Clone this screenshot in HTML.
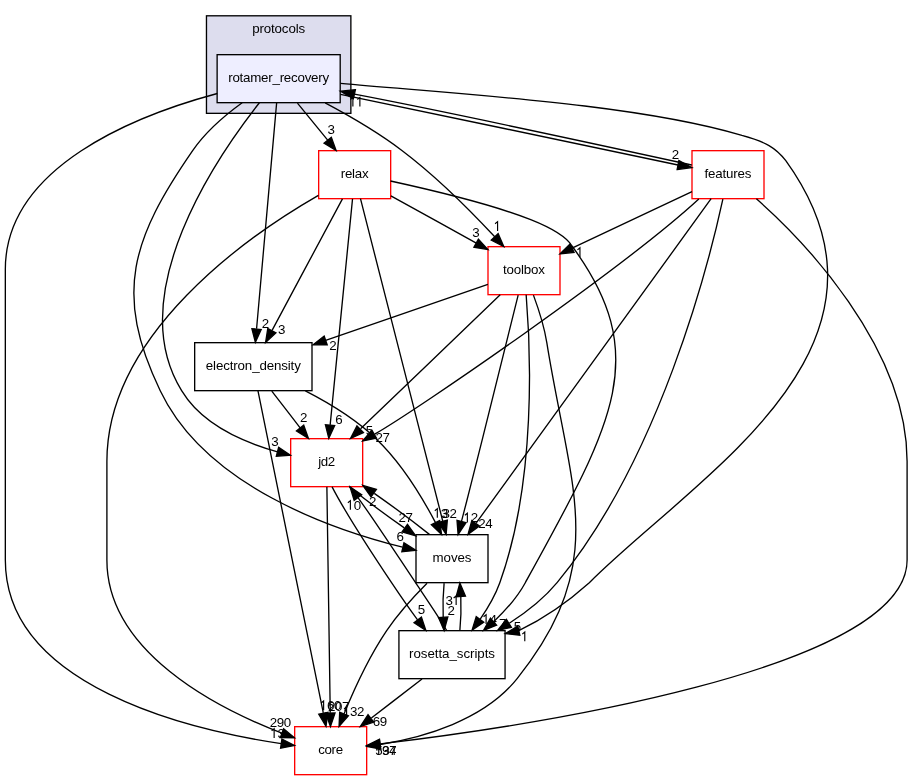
<!DOCTYPE html>
<html><head><meta charset="utf-8"><title>rotamer_recovery</title>
<style>html,body{margin:0;padding:0;background:#fff;}svg{display:block;}svg text{font-family:"Liberation Sans",sans-serif;}text{-webkit-font-smoothing:antialiased;}svg{will-change:transform;}</style></head>
<body>
<svg width="912" height="780" viewBox="0 0 912 780">
<rect x="0" y="0" width="912" height="780" fill="#ffffff"/>
<g font-size="13.33px" fill="#000" text-anchor="middle">
<rect x="206.47" y="15.80" width="144.40" height="97.53" fill="#ddddee" stroke="#000" stroke-width="1.333"/>
<text x="278.67" y="33.30" textLength="53" lengthAdjust="spacing">protocols</text>
<rect x="217.13" y="54.67" width="123.07" height="48" fill="#eeeeff" stroke="#000000" stroke-width="1.333"/><text x="278.67" y="82.00" textLength="101" lengthAdjust="spacing">rotamer_recovery</text>
<rect x="294.67" y="726.67" width="72.00" height="48" fill="#ffffff" stroke="#ff0000" stroke-width="1.333"/><text x="330.67" y="754.00" textLength="25" lengthAdjust="spacing">core</text>
<rect x="290.67" y="438.67" width="72.00" height="48" fill="#ffffff" stroke="#ff0000" stroke-width="1.333"/><text x="326.67" y="466.00" textLength="17" lengthAdjust="spacing">jd2</text>
<rect x="416.00" y="534.67" width="72.00" height="48" fill="#ffffff" stroke="#000000" stroke-width="1.333"/><text x="452.00" y="562.00" textLength="39" lengthAdjust="spacing">moves</text>
<rect x="398.93" y="630.67" width="106.13" height="48" fill="#ffffff" stroke="#000000" stroke-width="1.333"/><text x="452.00" y="658.00" textLength="86" lengthAdjust="spacing">rosetta_scripts</text>
<rect x="318.67" y="150.67" width="72.00" height="48" fill="#ffffff" stroke="#ff0000" stroke-width="1.333"/><text x="354.67" y="178.00" textLength="28" lengthAdjust="spacing">relax</text>
<rect x="194.67" y="342.67" width="117.33" height="48" fill="#ffffff" stroke="#000000" stroke-width="1.333"/><text x="253.33" y="370.00" textLength="95" lengthAdjust="spacing">electron_density</text>
<rect x="488.00" y="246.67" width="72.00" height="48" fill="#ffffff" stroke="#ff0000" stroke-width="1.333"/><text x="524.00" y="274.00" textLength="42" lengthAdjust="spacing">toolbox</text>
<rect x="692.00" y="150.67" width="72.00" height="48" fill="#ffffff" stroke="#ff0000" stroke-width="1.333"/><text x="728.00" y="178.00" textLength="47" lengthAdjust="spacing">features</text>
<path d="M217.30,93.50C136.30,115.30 5.33,166.50 5.33,269.30 5.33,269.30 5.33,269.30 5.33,560.00 5.33,686.60 189.80,729.90 281.20,743.60" fill="none" stroke="#000" stroke-width="1.333"/>
<polygon points="281.91,738.97 294.45,745.45 280.60,748.21 281.91,738.97" fill="#000" stroke="#000" stroke-width="1.333"/>
<path d="M274.14,737.88V728.68L271.64,730.78" fill="none" stroke="#000" stroke-width="1.15"/><text x="281.19" y="737.88">3</text>
<path d="M259.40,102.73C217.29,156.45 122.16,293.99 181.62,390.67 202.09,424.47 244.06,442.49 277.58,451.84" fill="none" stroke="#000" stroke-width="1.333"/>
<polygon points="278.64,447.32 290.41,455.13 276.33,456.37 278.64,447.32" fill="#000" stroke="#000" stroke-width="1.333"/>
<text x="274.92" y="445.80">3</text>
<path d="M242.15,102.79C225.09,115.13 205.65,131.73 192.65,150.67 131.71,238.91 113.42,293.73 160.23,390.67 205.55,485.81 331.91,529.64 402.54,547.21" fill="none" stroke="#000" stroke-width="1.333"/>
<polygon points="403.97,542.77 415.88,550.39 401.83,551.85 403.97,542.77" fill="#000" stroke="#000" stroke-width="1.333"/>
<text x="400.19" y="541.32">6</text>
<path d="M340.50,83.40C460.50,94.30 636.90,103.90 741.90,135.40 766.00,142.00 775.50,147.50 785.80,160.60 920.70,348.10 695.40,476.50 589.30,582.70 570.00,600.00 545.00,618.00 518.80,630.60" fill="none" stroke="#000" stroke-width="1.333"/>
<polygon points="517.79,626.04 505.30,633.60 519.81,635.16 517.79,626.04" fill="#000" stroke="#000" stroke-width="1.333"/>
<path d="M524.78,641.25V632.05L522.28,634.15" fill="none" stroke="#000" stroke-width="1.15"/>
<path d="M297.45,103.07C306.56,114.27 317.68,127.91 327.68,140.19" fill="none" stroke="#000" stroke-width="1.333"/>
<polygon points="331.29,137.24 336.09,150.53 324.05,143.13 331.29,137.24" fill="#000" stroke="#000" stroke-width="1.333"/>
<text x="331.20" y="134.47">3</text>
<path d="M276.64,102.87C272.25,152.23 261.88,269.09 256.57,328.81" fill="none" stroke="#000" stroke-width="1.333"/>
<polygon points="261.20,329.49 255.37,342.36 251.91,328.67 261.20,329.49" fill="#000" stroke="#000" stroke-width="1.333"/>
<text x="265.40" y="328.39">2</text>
<path d="M325.15,102.91C349.07,115.63 378.21,132.53 402.22,150.67 436.57,176.60 471.25,211.52 494.73,236.76" fill="none" stroke="#000" stroke-width="1.333"/>
<polygon points="498.12,233.64 503.77,246.59 491.28,239.99 498.12,233.64" fill="#000" stroke="#000" stroke-width="1.333"/>
<path d="M497.58,230.88V221.68L495.08,223.78" fill="none" stroke="#000" stroke-width="1.15"/>
<path d="M340.50,94.40C431.10,112.60 594.90,148.00 678.00,165.00" fill="none" stroke="#000" stroke-width="1.333"/>
<polygon points="677.14,169.59 691.80,167.60 678.86,160.41 677.14,169.59" fill="#000" stroke="#000" stroke-width="1.333"/>
<text x="675.55" y="159.27">2</text>
<path d="M326.88,486.87C327.62,536.23 329.37,653.09 330.24,712.81" fill="none" stroke="#000" stroke-width="1.333"/>
<polygon points="335.00,712.99 330.45,726.36 325.67,713.07 335.00,712.99" fill="#000" stroke="#000" stroke-width="1.333"/>
<text x="331.73" y="711.48">2</text><text x="338.73" y="711.48">0</text><text x="345.73" y="711.48">7</text>
<path d="M349.43,487.07C364.88,499.41 385.49,514.73 404.28,527.92" fill="none" stroke="#000" stroke-width="1.333"/>
<polygon points="407.47,524.31 415.68,535.81 402.09,531.93 407.47,524.31" fill="#000" stroke="#000" stroke-width="1.333"/>
<text x="402.23" y="521.79">2</text><text x="409.23" y="521.79">7</text>
<path d="M332.09,486.87C344.42,510.85 369.42,549.59 391.56,582.67 399.71,594.87 408.81,608.13 417.57,619.85" fill="none" stroke="#000" stroke-width="1.333"/>
<polygon points="421.44,617.11 425.85,630.52 414.04,622.79 421.44,617.11" fill="#000" stroke="#000" stroke-width="1.333"/>
<text x="421.53" y="614.33">5</text>
<path d="M427.04,583.29C413.95,596.37 398.25,613.49 386.67,630.67 369.04,656.80 354.11,689.35 344.11,713.75" fill="none" stroke="#000" stroke-width="1.333"/>
<polygon points="348.35,715.72 339.07,726.37 339.68,712.25 348.35,715.72" fill="#000" stroke="#000" stroke-width="1.333"/>
<path d="M346.59,716.00V706.80L344.09,708.90" fill="none" stroke="#000" stroke-width="1.15"/><text x="353.64" y="716.00">3</text><text x="360.64" y="716.00">2</text>
<path d="M429.39,534.39C413.89,522.00 393.16,506.59 374.28,493.33" fill="none" stroke="#000" stroke-width="1.333"/>
<polygon points="371.03,496.91 362.83,485.41 376.41,489.28 371.03,496.91" fill="#000" stroke="#000" stroke-width="1.333"/>
<text x="372.77" y="506.09">2</text>
<path d="M444.11,583.07C443.05,593.36 442.75,605.72 443.20,617.19" fill="none" stroke="#000" stroke-width="1.333"/>
<polygon points="447.87,616.91 444.13,630.53 438.56,617.55 447.87,616.91" fill="#000" stroke="#000" stroke-width="1.333"/>
<text x="451.31" y="615.19">2</text>
<path d="M422.01,679.07C406.72,690.83 387.92,705.29 371.36,718.04" fill="none" stroke="#000" stroke-width="1.333"/>
<polygon points="373.73,722.09 360.32,726.53 368.04,714.69 373.73,722.09" fill="#000" stroke="#000" stroke-width="1.333"/>
<text x="376.34" y="725.51">6</text><text x="383.34" y="725.51">9</text>
<path d="M446.71,630.52C438.70,616.73 426.32,598.76 415.56,582.67 396.53,554.24 375.40,521.63 358.14,497.80" fill="none" stroke="#000" stroke-width="1.333"/>
<polygon points="354.15,500.37 350.01,486.87 361.67,494.85 354.15,500.37" fill="#000" stroke="#000" stroke-width="1.333"/>
<path d="M350.38,509.81V500.61L347.88,502.71" fill="none" stroke="#000" stroke-width="1.15"/><text x="357.43" y="509.81">0</text>
<path d="M459.87,630.53C460.93,620.28 461.25,607.93 460.80,596.44" fill="none" stroke="#000" stroke-width="1.333"/>
<polygon points="456.15,596.69 459.89,583.07 465.45,596.05 456.15,596.69" fill="#000" stroke="#000" stroke-width="1.333"/>
<text x="449.19" y="605.07">3</text><path d="M456.14,605.07V595.87L453.64,597.97" fill="none" stroke="#000" stroke-width="1.15"/>
<path d="M318.40,195.30C249.30,235.10 106.90,333.40 106.90,461.30 106.90,461.30 106.90,461.30 106.90,560.00 106.90,651.50 215.60,707.60 281.80,733.10" fill="none" stroke="#000" stroke-width="1.333"/>
<polygon points="283.59,728.77 294.47,737.79 280.33,737.52 283.59,728.77" fill="#000" stroke="#000" stroke-width="1.333"/>
<text x="273.41" y="726.89">2</text><text x="280.41" y="726.89">9</text><text x="287.41" y="726.89">0</text>
<path d="M352.53,198.87C347.65,248.23 336.07,365.09 330.16,424.81" fill="none" stroke="#000" stroke-width="1.333"/>
<polygon points="334.71,425.52 328.81,438.36 325.41,424.65 334.71,425.52" fill="#000" stroke="#000" stroke-width="1.333"/>
<text x="338.92" y="424.43">6</text>
<path d="M360.47,198.71C376.72,262.41 422.87,443.17 442.72,520.97" fill="none" stroke="#000" stroke-width="1.333"/>
<polygon points="447.33,520.19 446.11,534.25 438.29,522.49 447.33,520.19" fill="#000" stroke="#000" stroke-width="1.333"/>
<text x="446.31" y="517.93">3</text><text x="453.31" y="517.93">2</text>
<path d="M390.50,181.00C531.20,211.80 563.20,231.70 572.00,246.00 652.60,356.00 613.20,423.20 525.30,582.70 517.50,597.10 505.70,610.30 493.90,621.40" fill="none" stroke="#000" stroke-width="1.333"/>
<polygon points="496.61,625.16 483.52,630.48 490.44,618.16 496.61,625.16" fill="#000" stroke="#000" stroke-width="1.333"/>
<text x="502.71" y="628.17">7</text>
<path d="M342.44,198.84C324.95,231.53 292.60,291.96 272.07,330.32" fill="none" stroke="#000" stroke-width="1.333"/>
<polygon points="276.00,332.87 265.60,342.41 267.77,328.45 276.00,332.87" fill="#000" stroke="#000" stroke-width="1.333"/>
<text x="281.60" y="333.76">3</text>
<path d="M390.87,195.80C415.75,209.59 449.21,228.15 476.31,243.16" fill="none" stroke="#000" stroke-width="1.333"/>
<polygon points="478.40,239.08 487.85,249.57 473.92,247.27 478.40,239.08" fill="#000" stroke="#000" stroke-width="1.333"/>
<text x="476.01" y="236.79">3</text>
<path d="M257.93,390.71C270.85,454.41 307.52,635.17 323.29,712.97" fill="none" stroke="#000" stroke-width="1.333"/>
<polygon points="327.91,712.27 325.99,726.25 318.76,714.12 327.91,712.27" fill="#000" stroke="#000" stroke-width="1.333"/>
<path d="M323.62,710.15V700.95L321.12,703.05" fill="none" stroke="#000" stroke-width="1.15"/><text x="330.67" y="710.15">6</text><text x="337.67" y="710.15">0</text>
<path d="M271.79,391.07C280.34,402.15 290.75,415.63 300.15,427.81" fill="none" stroke="#000" stroke-width="1.333"/>
<polygon points="303.73,425.20 308.43,438.53 296.45,431.03 303.73,425.20" fill="#000" stroke="#000" stroke-width="1.333"/>
<text x="303.69" y="422.43">2</text>
<path d="M305.37,390.95C328.72,402.92 355.55,419.16 376.00,438.67 401.29,462.80 422.03,496.95 435.40,522.43" fill="none" stroke="#000" stroke-width="1.333"/>
<polygon points="439.67,520.51 441.55,534.51 431.35,524.73 439.67,520.51" fill="#000" stroke="#000" stroke-width="1.333"/>
<path d="M437.32,517.85V508.65L434.82,510.75" fill="none" stroke="#000" stroke-width="1.15"/><text x="444.37" y="517.85">3</text>
<path d="M533.43,295.11C538.49,308.71 544.21,326.37 546.81,342.67 570.42,490.81 610.31,561.45 517.13,678.67 484.00,720.33 423.35,737.44 380.22,744.47" fill="none" stroke="#000" stroke-width="1.333"/>
<polygon points="380.76,749.11 366.89,746.40 379.41,739.87 380.76,749.11" fill="#000" stroke="#000" stroke-width="1.333"/>
<text x="379.05" y="755.49">5</text><text x="386.05" y="755.49">3</text><text x="393.05" y="755.49">7</text>
<path d="M500.20,294.84C465.37,328.24 400.39,390.60 360.59,428.79" fill="none" stroke="#000" stroke-width="1.333"/>
<polygon points="363.40,432.55 350.56,438.41 356.95,425.81 363.40,432.55" fill="#000" stroke="#000" stroke-width="1.333"/>
<text x="369.48" y="435.29">5</text>
<path d="M518.16,295.20C508.46,334.60 488.07,417.05 470.40,486.67 467.56,497.89 464.41,510.11 461.54,521.19" fill="none" stroke="#000" stroke-width="1.333"/>
<polygon points="466.03,522.73 458.11,534.43 457.01,520.35 466.03,522.73" fill="#000" stroke="#000" stroke-width="1.333"/>
<path d="M467.37,522.41V513.21L464.87,515.31" fill="none" stroke="#000" stroke-width="1.15"/><text x="474.42" y="522.41">2</text>
<path d="M526.16,294.71C530.53,347.25 536.73,480.49 499.81,582.67 495.18,595.49 487.71,608.23 480.04,619.28" fill="none" stroke="#000" stroke-width="1.333"/>
<polygon points="483.76,622.16 472.09,630.12 476.25,616.63 483.76,622.16" fill="#000" stroke="#000" stroke-width="1.333"/>
<path d="M486.10,623.88V614.68L483.60,616.78" fill="none" stroke="#000" stroke-width="1.15"/><text x="493.15" y="623.88">4</text>
<path d="M487.88,284.40C446.67,298.64 378.00,322.39 325.66,340.48" fill="none" stroke="#000" stroke-width="1.333"/>
<polygon points="327.20,344.92 313.07,344.84 324.17,336.09 327.20,344.92" fill="#000" stroke="#000" stroke-width="1.333"/>
<text x="332.96" y="350.28">2</text>
<path d="M691.80,165.00C617.50,148.80 452.60,112.80 354.40,94.20" fill="none" stroke="#000" stroke-width="1.333"/>
<polygon points="355.38,89.64 340.50,91.20 353.42,98.76 355.38,89.64" fill="#000" stroke="#000" stroke-width="1.333"/>
<path d="M352.88,106.62V97.42L350.38,99.52" fill="none" stroke="#000" stroke-width="1.15"/><path d="M359.88,106.62V97.42L357.38,99.52" fill="none" stroke="#000" stroke-width="1.15"/>
<path d="M756.40,198.80C801.00,238.00 907.10,346.60 907.10,461.30 907.10,461.30 907.10,461.30 907.10,560.00 907.10,670.70 520.60,727.10 380.30,743.90" fill="none" stroke="#000" stroke-width="1.333"/>
<polygon points="380.57,748.53 366.79,745.45 379.48,739.27 380.57,748.53" fill="#000" stroke="#000" stroke-width="1.333"/>
<path d="M378.72,755.07V745.87L376.22,747.97" fill="none" stroke="#000" stroke-width="1.15"/><text x="385.77" y="755.07">9</text><text x="392.77" y="755.07">4</text>
<path d="M698.80,199.00C623.70,268.20 415.10,411.20 374.60,434.20" fill="none" stroke="#000" stroke-width="1.333"/>
<polygon points="376.55,438.21 362.68,440.92 371.84,430.16 376.55,438.21" fill="#000" stroke="#000" stroke-width="1.333"/>
<text x="379.10" y="442.40">2</text><text x="386.10" y="442.40">7</text>
<path d="M711.13,198.71C664.60,262.93 531.87,446.17 476.29,522.89" fill="none" stroke="#000" stroke-width="1.333"/>
<polygon points="479.51,525.97 468.05,534.25 471.84,520.65 479.51,525.97" fill="#000" stroke="#000" stroke-width="1.333"/>
<text x="481.85" y="527.55">2</text><text x="488.85" y="527.55">4</text>
<path d="M722.88,199.09C708.45,265.21 659.41,458.52 557.08,582.67 543.96,598.59 526.36,612.29 509.28,623.29" fill="none" stroke="#000" stroke-width="1.333"/>
<polygon points="511.39,627.37 497.60,630.47 506.45,619.45 511.39,627.37" fill="#000" stroke="#000" stroke-width="1.333"/>
<text x="517.45" y="631.39">5</text>
<path d="M692.00,191.60C652.00,210.40 612.00,229.30 572.06,248.10" fill="none" stroke="#000" stroke-width="1.333"/>
<polygon points="570.07,243.88 560.00,253.80 574.05,252.32 570.07,243.88" fill="#000" stroke="#000" stroke-width="1.333"/>
<path d="M579.95,257.03V247.83L577.45,249.93" fill="none" stroke="#000" stroke-width="1.15"/>
</g></svg>
</body></html>
